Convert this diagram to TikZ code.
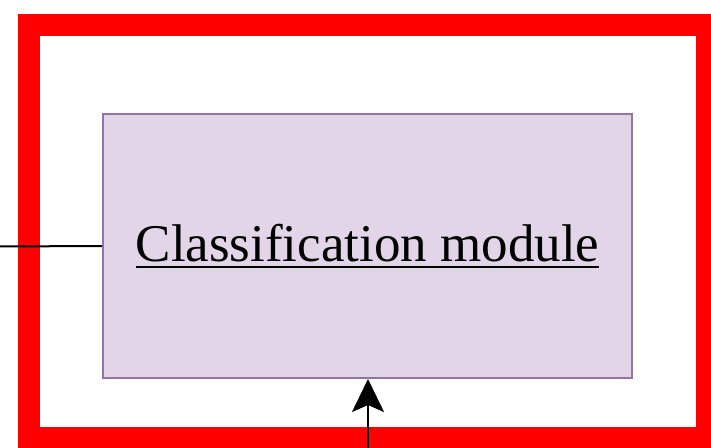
\documentclass[tikz,border=0pt]{standalone}
\usepackage{fontspec}
\setmainfont{Liberation Serif}
\usetikzlibrary{arrows.meta}
\definecolor{boxfill}{HTML}{E1D5E7}
\definecolor{boxline}{HTML}{9673A6}
\definecolor{frame}{HTML}{FF0000}
\newcommand\myul[1]{\setbox0\hbox{#1}\rlap{\rule[-7pt]{\wd0}{2pt}}\box0}
\tikzset{
  outerframe/.style={draw=frame, line width=22pt},
  modulebox/.style={draw=boxline, fill=boxfill, line width=2pt, minimum width=529pt, minimum height=264pt, inner sep=0pt, font=\fontsize{53}{60}\selectfont},
  conn/.style={draw=black, line width=2pt},
  connarrow/.style={conn, -{Stealth[length=33pt,width=32pt,inset=7pt]}}
}
\begin{document}
\begin{tikzpicture}[x=1pt,y=-1pt]
\useasboundingbox (0,0) rectangle (711,447);
\draw[outerframe] (29,24.5) rectangle (707,438);
\node[modulebox] (cm) at (367.5,246) {\myul{Classification module}};
\coordinate (lin) at (-5,246.5);
\coordinate (ain) at (368,452);
\draw[conn] (lin) -- (cm.west);
\draw[connarrow] (ain) -- (cm.south -| ain);
\end{tikzpicture}
\end{document}
